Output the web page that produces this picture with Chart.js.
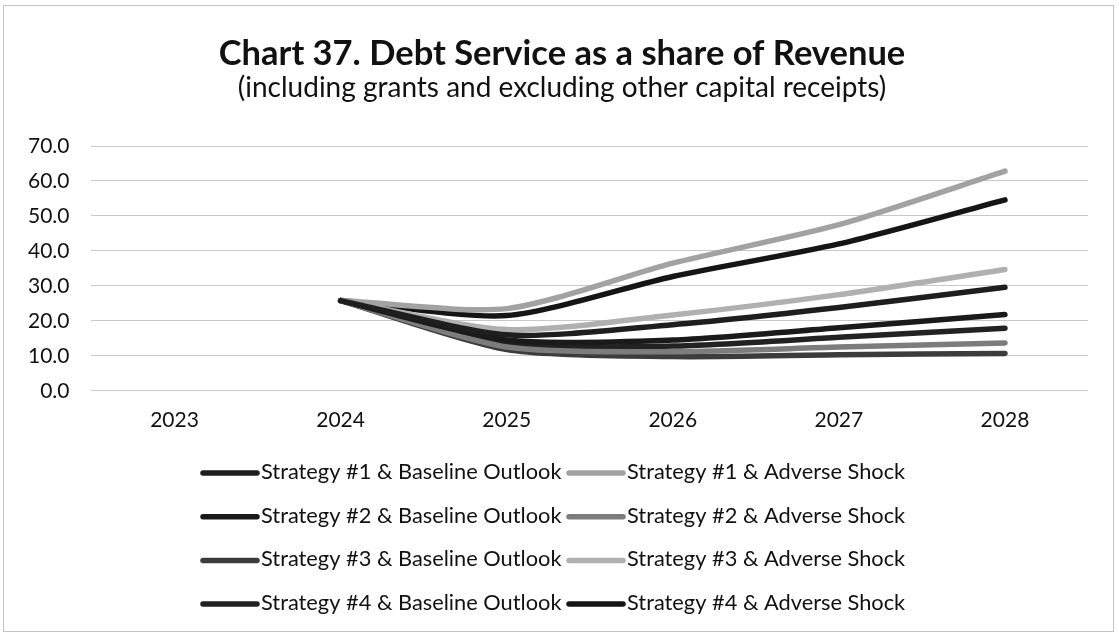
<!DOCTYPE html>
<html>
<head>
<meta charset="utf-8">
<script src="https://cdn.jsdelivr.net/npm/chart.js@4/dist/chart.umd.min.js"></script>
<style>
  html, body { margin: 0; padding: 0; background: #ffffff; }
  #frame { position: absolute; left: 3px; top: 5px; width: 1109px; height: 625px; border: 1px solid #c4c4c4; }
  #wrap { position: absolute; left: 0; top: 0; width: 1119px; height: 635px; }
</style>
</head>
<body>
<div id="frame"></div>
<div id="wrap"><canvas id="c" width="1119" height="635"></canvas></div>
<script>
// Years on the horizontal axis
const years = ['2023', '2024', '2025', '2026', '2027', '2028'];

// Debt service as % of revenue, by strategy and scenario (no value for 2023)
const s1Baseline = [null, 25.8, 16.0, 18.9, 23.8, 29.6];
const s1Adverse  = [null, 25.8, 23.5, 36.5, 47.5, 62.8];
const s2Baseline = [null, 25.8, 14.5, 14.5, 18.0, 21.8];
const s2Adverse  = [null, 25.8, 12.5, 11.2, 12.5, 13.7];
const s3Baseline = [null, 25.8, 11.8, 9.8, 10.3, 10.7];
const s3Adverse  = [null, 25.8, 17.5, 21.7, 27.5, 34.7];
const s4Baseline = [null, 25.8, 13.5, 12.8, 15.3, 17.9];
const s4Adverse  = [null, 25.8, 21.5, 32.7, 42.0, 54.6];

const seriesNames = [
  'Strategy #1 & Baseline Outlook', 'Strategy #1 & Adverse Shock',
  'Strategy #2 & Baseline Outlook', 'Strategy #2 & Adverse Shock',
  'Strategy #3 & Baseline Outlook', 'Strategy #3 & Adverse Shock',
  'Strategy #4 & Baseline Outlook', 'Strategy #4 & Adverse Shock'
];
const seriesValues = [s1Baseline, s1Adverse, s2Baseline, s2Adverse, s3Baseline, s3Adverse, s4Baseline, s4Adverse];
const seriesColors = ['#1e1e1e', '#a2a2a2', '#1a1a1a', '#7c7c7c', '#3c3c3c', '#b0b0b0', '#222222', '#151515'];

const FONT = 'Lato, "Open Sans", sans-serif';

const datasets = seriesNames.map((name, i) => ({
  label: name,
  data: seriesValues[i],
  borderColor: seriesColors[i],
  backgroundColor: seriesColors[i],
  borderWidth: 5.5,
  borderCapStyle: 'round',
  borderJoinStyle: 'round',
  tension: 0.25,
  pointRadius: 0,
  pointHoverRadius: 0,
  fill: false
}));

// Two-column legend under the plot: line sample followed by the series name
const twoColumnLegend = {
  id: 'twoColumnLegend',
  afterDraw(chart) {
    const ctx = chart.ctx;
    const colX = [200, 566];
    const sampleLen = 60;
    const firstRowY = 472;
    const rowGap = 43.7;
    ctx.save();
    ctx.font = '21.8px ' + FONT;
    ctx.textBaseline = 'middle';
    ctx.textAlign = 'left';
    chart.data.datasets.forEach((ds, i) => {
      const col = i % 2;
      const row = Math.floor(i / 2);
      const x = colX[col];
      const y = firstRowY + row * rowGap;
      ctx.strokeStyle = ds.borderColor;
      ctx.lineWidth = 5.5;
      ctx.lineCap = 'round';
      ctx.beginPath();
      ctx.moveTo(x + 3, y + 1);
      ctx.lineTo(x + sampleLen - 3, y + 1);
      ctx.stroke();
      ctx.fillStyle = '#111111';
      ctx.fillText(ds.label, x + sampleLen + 1, y);
    });
    ctx.restore();
  }
};

new Chart(document.getElementById('c'), {
  type: 'line',
  data: { labels: years, datasets },
  plugins: [twoColumnLegend],
  options: {
    responsive: false,
    animation: false,
    layout: { padding: { left: 6, right: 1, top: 0, bottom: 193 } },
    plugins: {
      tooltip: { enabled: false },
      legend: { display: false },
      title: {
        display: true,
        text: 'Chart 37. Debt Service as a share of Revenue',
        color: '#111111',
        font: { family: FONT, size: 34.5, weight: 'bold' },
        padding: { top: 33, bottom: -3 }
      },
      subtitle: {
        display: true,
        text: '(including grants and excluding other capital receipts)',
        color: '#111111',
        font: { family: FONT, size: 28 },
        padding: { top: 0, bottom: 41 }
      }
    },
    scales: {
      x: {
        offset: true,
        grid: { display: false },
        border: { display: false },
        ticks: { color: '#111111', font: { family: FONT, size: 21 }, padding: 9 }
      },
      y: {
        min: 0,
        max: 70,
        ticks: {
          stepSize: 10,
          color: '#111111',
          font: { family: FONT, size: 21 },
          padding: 22,
          callback: v => Number(v).toFixed(1)
        },
        grid: { color: '#c8c8c8', lineWidth: 1, drawTicks: false },
        border: { display: false }
      },
      // empty right-hand margin axis: keeps the plot clear of the right edge
      yRight: {
        position: 'right',
        display: true,
        grid: { display: false },
        border: { display: false },
        ticks: { display: false },
        afterFit(scale) { scale.width = 30; }
      }
    }
  }
});
</script>
</body>
</html>
